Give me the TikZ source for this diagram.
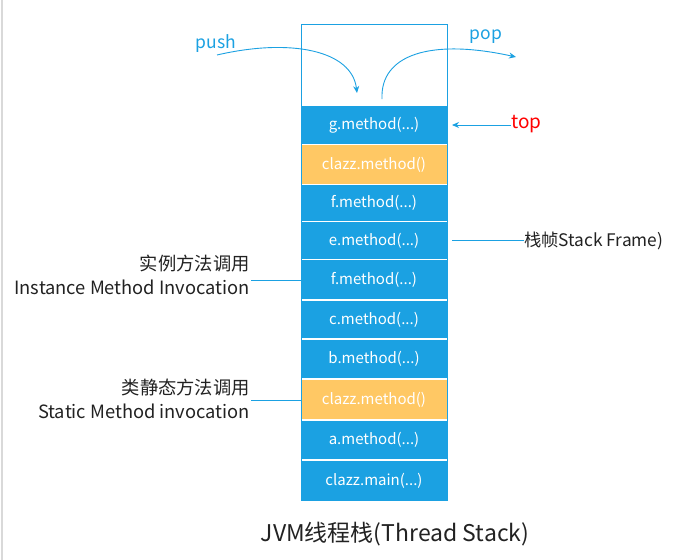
\documentclass[tikz,border=0pt]{standalone}
\usepackage{fontspec}
\setmainfont{Noto Sans CJK SC}
\usetikzlibrary{arrows.meta}
\definecolor{jblue}{HTML}{1BA1E2}
\definecolor{jorange}{HTML}{FFC864}
\definecolor{jtext}{HTML}{222222}
\tikzset{
  frame/.style={minimum width=145pt, inner sep=0pt, fill=jblue, text=white, font=\fontsize{15}{17}\selectfont},
  sframe/.style={frame, fill=jorange},
  lbl/.style={inner sep=0pt, text=jtext, font=\fontsize{18.3}{24}\selectfont, align=right, anchor=east},
  conn/.style={draw=jblue, line width=0.9pt},
  arr/.style={conn, -{Stealth[length=7pt,width=6pt]}}
}
\begin{document}
\begin{tikzpicture}[x=1pt,y=-1pt]
\useasboundingbox (0,0) rectangle (686,560);
\fill[white] (0,0) rectangle (686,560);
\draw[draw=gray!30, line width=1.5pt] (2,0) -- (2,560);
% outer stack box
\node[draw=jblue, line width=1pt, minimum width=146pt, minimum height=476pt, inner sep=0pt] (stack) at (374,262) {};
% frames
\node[frame,  minimum height=38pt]   (g)  at (374,124.75) {g.method(...)};
\node[sframe, minimum height=38.5pt] (c1) at (374,164.5) {clazz.method()};
\node[frame,  minimum height=35.5pt] (f1) at (374,203) {f.method(...)};
\node[frame,  minimum height=36.5pt] (e)  at (374,240.5) {e.method(...)};
\node[frame,  minimum height=39pt]   (f2) at (374,279.75) {f.method(...)};
\node[frame,  minimum height=37.5pt] (cm) at (374,319.5) {c.method(...)};
\node[frame,  minimum height=38.5pt] (b)  at (374,359) {b.method(...)};
\node[sframe, minimum height=39.5pt] (c2) at (374,399.5) {clazz.method()};
\node[frame,  minimum height=38.5pt] (a)  at (374,440) {a.method(...)};
\node[frame,  minimum height=39.2pt] (mn) at (374,480.4) {clazz.main(...)};
% push / pop
\node[inner sep=0pt, text=jblue, font=\fontsize{17.5}{19}\selectfont] (push) at (216,44) {push};
\node[inner sep=0pt, text=jblue, font=\fontsize{17.5}{19}\selectfont] (pop) at (486,37) {pop};
\coordinate (pushs) at (217,55);
\coordinate (pushe) at (357,93);
\coordinate (pops) at (382,99);
\coordinate (pope) at (516,57);
\draw[arr] (pushs) .. controls (290,38) and (352,50) .. (pushe);
\draw[arr] (pops) .. controls (380,55) and (430,38) .. (pope);
% top
\node[inner sep=0pt, text=red, font=\fontsize{19}{21}\selectfont, anchor=west] (top) at (511,124) {top};
\coordinate (topend) at (452,125);
\draw[arr] (top.west |- topend) -- (topend);
% stack frame label
\node[inner sep=0pt, text=jtext, font=\fontsize{17.3}{19}\selectfont, anchor=west] (sf) at (524,241) {栈帧Stack Frame)};
\coordinate (sfend) at (452,240);
\draw[conn] (sf.west |- sfend) -- (sfend);
% left labels
\node[lbl] (inst) at (250,275) {实例方法调用\\Instance Method Invocation};
\node[lbl] (stat) at (250,399) {类静态方法调用\\Static Method invocation};
\coordinate (instc) at (251,280);
\coordinate (statc) at (251,400);
\draw[conn] (instc) -- (instc -| f2.west);
\draw[conn] (statc) -- (statc -| c2.west);
% title
\node[inner sep=0pt, text=jtext, font=\fontsize{23}{26}\selectfont] (title) at (395,534) {JVM线程栈(Thread Stack)};
\end{tikzpicture}
\end{document}
